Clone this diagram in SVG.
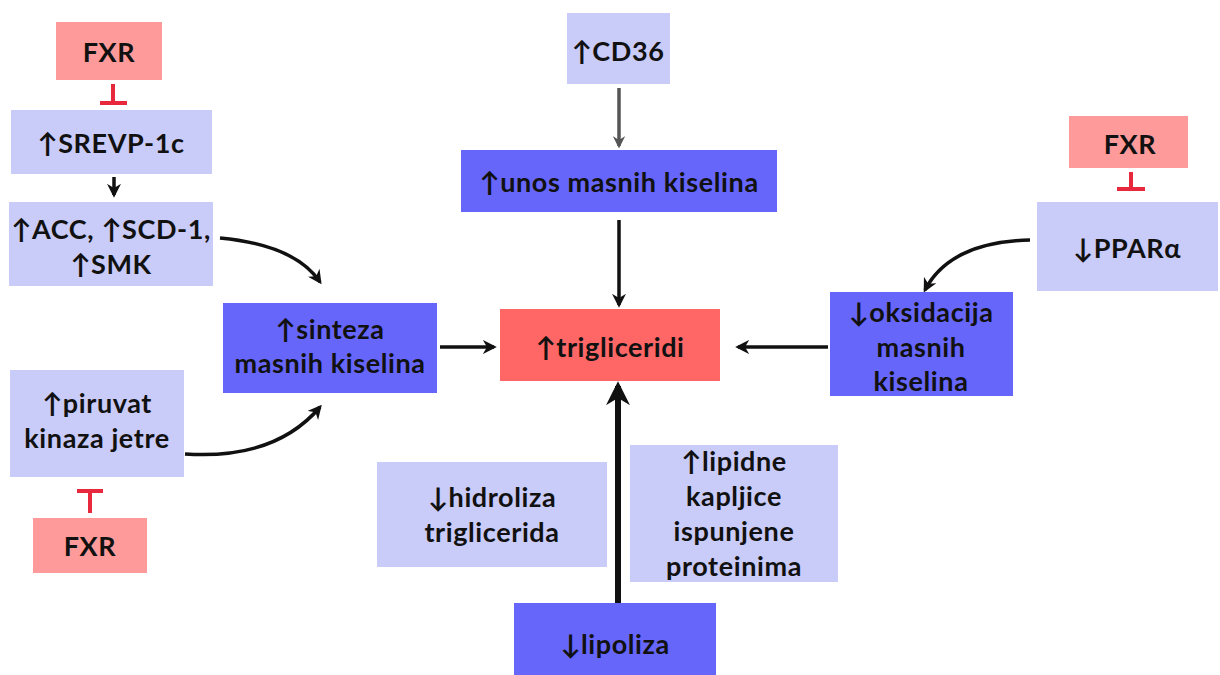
<svg xmlns="http://www.w3.org/2000/svg" width="1220" height="675" viewBox="0 0 1220 675">
<defs>
<style>
.lt{fill:#c9cbf8}
.bl{fill:#6666fb}
.rd{fill:#ff6666}
.pk{fill:#ff9a9a}
text{font-family:Lato,"Open Sans","DejaVu Sans",sans-serif;font-weight:bold;font-size:27px;letter-spacing:0.6px;fill:#111;text-anchor:middle;dominant-baseline:central}
.ln{stroke:#111;stroke-width:3.5;fill:none}
.inh{stroke:#e8283c;stroke-width:4;fill:none}
</style>
<marker id="ah" viewBox="0 0 10 10" refX="8" refY="5" markerWidth="4" markerHeight="4" orient="auto-start-reverse" markerUnits="strokeWidth">
<path d="M0,0 L10,5 L0,10 L3,5 z" fill="#111"/>
</marker>
<marker id="ahg" viewBox="0 0 10 10" refX="8" refY="5" markerWidth="3.5" markerHeight="3.5" orient="auto" markerUnits="strokeWidth">
<path d="M0,0 L10,5 L0,10 L3,5 z" fill="#555"/>
</marker>
</defs>
<rect width="1220" height="675" fill="#fff"/>

<g id="fxr1"><rect class="pk" x="56" y="22" width="106" height="58"/><text x="109" y="51">FXR</text></g>
<g id="srevp"><rect class="lt" x="11" y="110" width="201" height="64"/><text x="111" y="142">↑SREVP-1c</text></g>
<g id="acc"><rect class="lt" x="9" y="202" width="204" height="84"/><text x="111" y="228">↑ACC, ↑SCD-1,</text><text x="111" y="263">↑SMK</text></g>
<g id="sinteza"><rect class="bl" x="223" y="303" width="214" height="90"/><text x="330" y="328">↑sinteza</text><text x="330" y="362">masnih kiselina</text></g>
<g id="piruvat"><rect class="lt" x="10" y="370" width="174" height="107"/><text x="97" y="402">↑piruvat</text><text x="97" y="437">kinaza jetre</text></g>
<g id="fxr2"><rect class="pk" x="33" y="518" width="114" height="55"/><text x="90" y="545">FXR</text></g>
<g id="cd36"><rect class="lt" x="567" y="13" width="103" height="71"/><text x="618" y="50">↑CD36</text></g>
<g id="unos"><rect class="bl" x="461" y="150" width="316" height="62"/><text x="619" y="181">↑unos masnih kiselina</text></g>
<g id="trig"><rect class="rd" x="500" y="309" width="220" height="72"/><text x="610" y="346">↑trigliceridi</text></g>
<g id="fxr3"><rect class="pk" x="1069" y="116" width="119" height="52"/><text x="1130" y="143">FXR</text></g>
<g id="ppar"><rect class="lt" x="1037" y="202" width="181" height="89"/><text x="1127" y="247">↓PPARα</text></g>
<g id="oks"><rect class="bl" x="830" y="292" width="183" height="104"/><text x="921" y="311">↓oksidacija</text><text x="921" y="346">masnih</text><text x="921" y="380">kiselina</text></g>
<g id="hidro"><rect class="lt" x="377" y="462" width="230" height="105"/><text x="492" y="496">↓hidroliza</text><text x="492" y="531">triglicerida</text></g>
<g id="lipidne"><rect class="lt" x="630" y="445" width="208" height="137"/><text x="734" y="460">↑lipidne</text><text x="734" y="495">kapljice</text><text x="734" y="530">ispunjene</text><text x="734" y="565">proteinima</text></g>
<g id="lipoliza"><rect class="bl" x="514" y="603" width="202" height="72"/><text x="615" y="643">↓lipoliza</text></g>

<g id="connectors">
<path class="inh" d="M113 84 V103 M100 103 H127"/>
<path class="inh" d="M1131 172 V189 M1117 189 H1145"/>
<path class="inh" d="M90 513 V491 M77 491 H103" stroke="#ee2222"/>
<path class="ln" d="M114 177 V195" marker-end="url(#ah)"/>
<path d="M619 88 V146" stroke="#555" stroke-width="3.5" fill="none" marker-end="url(#ahg)"/>
<path class="ln" d="M619 220 V305" marker-end="url(#ah)"/>
<path class="ln" d="M440 347 H494" marker-end="url(#ah)"/>
<path class="ln" d="M828 347 H738" marker-end="url(#ah)"/>
<path class="ln" d="M618 603 V386" marker-end="url(#ah)" style="stroke-width:6"/>
<path class="ln" d="M220 238 Q295 245 320 282" stroke-width="3" marker-end="url(#ah)"/>
<path class="ln" d="M185 454 Q275 460 320 407" stroke-width="3" marker-end="url(#ah)"/>
<path class="ln" d="M1030 240 Q950 242 925 290" stroke-width="3" marker-end="url(#ah)"/>
</g>
</svg>
